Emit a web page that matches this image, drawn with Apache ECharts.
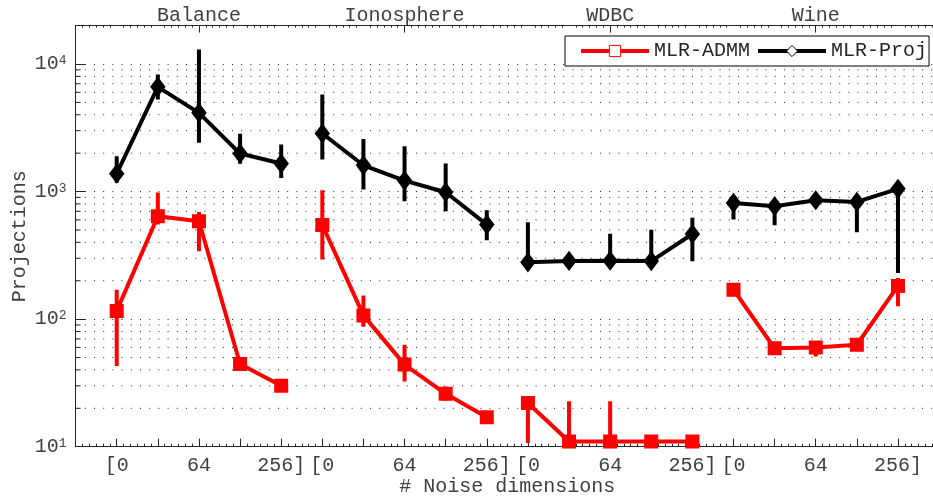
<!DOCTYPE html>
<html><head><meta charset="utf-8">
<script src="https://cdn.jsdelivr.net/npm/echarts@6/dist/echarts.min.js"></script>
<style>html,body{margin:0;padding:0;background:#fff}#c{width:933px;height:500px}</style>
</head><body><div id="c"></div>
<script>
// ---- data ----
const datasets = ['Balance', 'Ionosphere', 'WDBC', 'Wine'];
const noiseTickLabels = ['[0', '', '64', '', '256]'];
const yMajorTicks = [10, 100, 1000, 10000];
const yMinorTicks = [20, 30, 40, 50, 60, 70, 80, 90, 200, 300, 400, 500, 600, 700, 800, 900,
  2000, 3000, 4000, 5000, 6000, 7000, 8000, 9000];
const seriesNames = ['MLR-ADMM', 'MLR-Proj'];

const admmMean = [116, 640, 585, 44.5, 30,   548, 107, 44, 26, 17,   22, 11, 11, 11, 11,   170, 59, 60, 63, 182];
const admmLow  = [43, 551, 340, 42, 29,      293, 87, 32.5, 23, 16,  10.7, 10.5, 10.5, 10.8, 10.8,  151, 56, 51, 60, 126];
const admmHigh = [170, 985, 693, 47, 31,     1024, 153, 63, 29.7, 18, 23, 22.7, 22.7, 11.3, 11.3,   185, 62, 66, 66, 210];

const projMean = [1380, 6620, 4140, 1986, 1658,  2852, 1607, 1219, 988, 551,  279, 286, 287, 285, 465,  815, 768, 855, 830, 1050];
const projLow  = [1170, 5270, 2410, 1650, 1280,  1783, 1038, 839, 701, 415,   270, 275, 275, 275, 284,  603, 544, 800, 480, 230];
const projHigh = [1893, 8280, 13000, 2835, 2340, 5770, 2587, 2265, 1658, 713,  574, 300, 468, 503, 622,  900, 820, 920, 880, 1150];

const RED = '#ff0000', BLACK = '#000000', AX = '#262626', TXT = '#404040';
const FONT = 'Liberation Mono';
const perGroup = noiseTickLabels.length;
const X_MIN = 0, X_MAX = datasets.length * perGroup + 1;

function lineData(mean) {
  const out = [];
  mean.forEach((v, i) => {
    out.push([i + 1, v]);
    if ((i + 1) % perGroup === 0) out.push([i + 1.5, null]);
  });
  return out;
}
function errData(low, high) {
  return low.map((l, i) => [i + 1, l, high[i]]);
}
function errSeries(name, low, high, color) {
  return {
    name: name + '-err', type: 'custom', z: 2, silent: true,
    data: errData(low, high),
    encode: { x: 0, y: [1, 2] },
    clip: true,
    renderItem: (params, api) => {
      const p1 = api.coord([api.value(0), api.value(1)]);
      const p2 = api.coord([api.value(0), api.value(2)]);
      return { type: 'line', shape: { x1: p1[0], y1: p1[1], x2: p2[0], y2: p2[1] },
        style: { stroke: color, lineWidth: 4 } };
    }
  };
}

const groupCenters = datasets.map((d, g) => g * perGroup + 3);
const dotted = { color: '#222', width: 1, type: [1, 8.2] };

const chart = echarts.init(document.getElementById('c'), null, { renderer: 'canvas' });
chart.setOption({
  backgroundColor: '#fff',
  animation: false,
  textStyle: { fontFamily: FONT },
  grid: { left: 75.6, top: 25.6, width: 863.5, height: 421.1, containLabel: false, outerBoundsMode: 'none' },
  legend: {
    data: seriesNames, left: 565, top: 36, width: 420, padding: [5, 2, 5, 14], itemGap: 6,
    itemWidth: 68, itemHeight: 14, backgroundColor: '#fff', borderColor: '#000', borderWidth: 1,
    textStyle: { fontFamily: FONT, fontSize: 20, color: AX },
    itemStyle: { color: '#fff', borderWidth: 1 }, lineStyle: { width: 4 }
  },
  xAxis: [{
    type: 'value', min: X_MIN, max: X_MAX, interval: 1, position: 'bottom',
    axisLine: { show: true, onZero: false, lineStyle: { color: AX, width: 1 } },
    axisTick: { show: true, inside: true, length: 8, lineStyle: { color: AX } },
    minorTick: { show: true, splitNumber: 6, length: 3, lineStyle: { color: AX } },
    splitLine: { show: false },
    axisLabel: {
      margin: 9, fontFamily: FONT, fontSize: 20, color: TXT,
      formatter: v => (v >= 1 && v <= datasets.length * perGroup) ? noiseTickLabels[(v - 1) % perGroup] : ''
    },
    name: '# Noise dimensions', nameLocation: 'middle', nameGap: 30, nameMoveOverlap: false,
    nameTextStyle: { fontFamily: FONT, fontSize: 20, color: TXT }
  }, {
    type: 'value', min: X_MIN, max: X_MAX, interval: 1, position: 'top',
    axisLine: { show: true, onZero: false, lineStyle: { color: AX, width: 1 } },
    axisTick: { show: true, inside: true, length: 7, customValues: groupCenters, lineStyle: { color: AX } },
    minorTick: { show: true, splitNumber: 6, length: 2, lineStyle: { color: AX } },
    splitLine: { show: false },
    axisLabel: {
      show: true, customValues: groupCenters, margin: 0, fontFamily: FONT, fontSize: 20, color: TXT,
      formatter: v => datasets[Math.round((v - 3) / perGroup)] || ''
    }
  }],
  yAxis: [{
    type: 'log', logBase: 10, min: 10, max: 20000, position: 'left',
    axisLine: { show: true, onZero: false, lineStyle: { color: AX, width: 1 } },
    axisTick: { show: true, inside: true, length: 10, customValues: yMajorTicks, lineStyle: { color: AX } },
    splitLine: { show: true, lineStyle: dotted },
    axisLabel: {
      customValues: yMajorTicks, margin: 9,
      formatter: v => '{b|10}{s|' + Math.round(Math.log10(v)) + '}',
      rich: {
        b: { fontFamily: FONT, fontSize: 20, color: TXT, lineHeight: 20, verticalAlign: 'bottom' },
        s: { fontFamily: FONT, fontSize: 13, color: TXT, lineHeight: 13, verticalAlign: 'top', padding: [0, 0, 11, 0] }
      }
    },
    name: 'Projections', nameLocation: 'middle', nameGap: 46, nameMoveOverlap: false,
    nameTextStyle: { fontFamily: FONT, fontSize: 20, color: TXT }
  }],
  series: [
    {
      name: 'minor-grid', type: 'custom', z: 1, silent: true, clip: false,
      data: yMinorTicks.map(v => [X_MIN, v]),
      encode: { x: 0, y: 1 },
      renderItem: (params, api) => {
        const a = api.coord([X_MIN, api.value(1)]);
        const b = api.coord([X_MAX, api.value(1)]);
        return { type: 'group', children: [
          { type: 'line', shape: { x1: a[0], y1: a[1], x2: b[0], y2: b[1] },
            style: { stroke: dotted.color, lineWidth: 1, lineDash: dotted.type } },
          { type: 'line', shape: { x1: a[0], y1: a[1], x2: a[0] + 5, y2: a[1] },
            style: { stroke: AX, lineWidth: 1 } }
        ] };
      }
    },
    errSeries('MLR-ADMM', admmLow, admmHigh, RED),
    errSeries('MLR-Proj', projLow, projHigh, BLACK),
    {
      name: 'MLR-ADMM', type: 'line', z: 3, data: lineData(admmMean), connectNulls: false,
      symbol: 'rect', symbolSize: 12, showAllSymbol: true,
      lineStyle: { color: RED, width: 4 }, itemStyle: { color: RED, borderColor: RED, borderWidth: 2 }
    },
    {
      name: 'MLR-Proj', type: 'line', z: 4, data: lineData(projMean), connectNulls: false,
      symbol: 'diamond', symbolSize: [13, 17], showAllSymbol: true,
      lineStyle: { color: BLACK, width: 4 }, itemStyle: { color: BLACK, borderColor: BLACK, borderWidth: 2 }
    }
  ]
});
</script></body></html>
